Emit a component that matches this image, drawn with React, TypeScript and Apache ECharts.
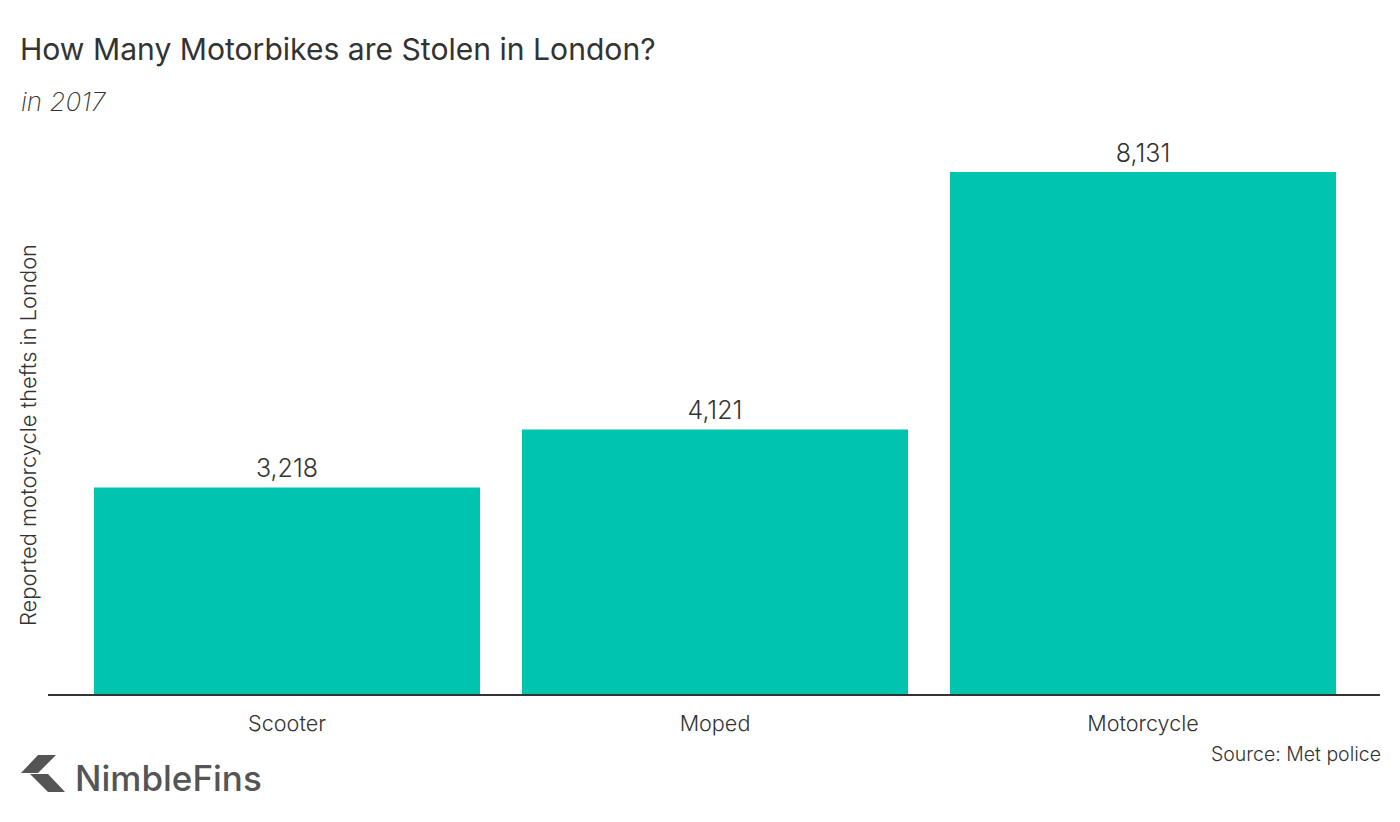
import * as echarts from "echarts";
import React, { useEffect, useRef } from "react";

const categories = ["Scooter", "Moped", "Motorcycle"];
const thefts = [3218, 4121, 8131];

const FONT = "Inter";
const TEXT = "#333333";

// NimbleFins chevron
echarts.graphic.registerShape(
  "logo",
  echarts.graphic.extendPath("M0 18 L17 0 L35 0 L17 18 Z M9 19 L27 19 L44 37 L27 37 Z", {})
);

const option = {
  animation: false,
  backgroundColor: "#ffffff",
  grid: { left: 73, top: 172, width: 1284, height: 522 },
  xAxis: {
    type: "category",
    data: categories,
    axisLine: { show: false },
    axisTick: { show: false },
    axisLabel: { fontFamily: FONT, fontSize: 21.6, fontWeight: 300, color: TEXT, margin: 18 },
  },
  yAxis: {
    type: "value",
    min: 0,
    max: 8131,
    show: false,
  },
  series: [
    {
      type: "bar",
      data: thefts,
      barWidth: 386,
      itemStyle: { color: "#00c4ae" },
      label: {
        show: true,
        position: "top",
        distance: 7,
        fontFamily: FONT,
        fontSize: 25,
        fontWeight: 300,
        color: TEXT,
        formatter: (p: any) => p.value.toLocaleString("en-US"),
      },
    },
  ],
  graphic: [
    {
      type: "line",
      shape: { x1: 48, y1: 695, x2: 1380, y2: 695 },
      style: { stroke: "#333333", lineWidth: 2 },
    },
    {
      type: "text",
      x: 20,
      y: 34,
      style: { text: "How Many Motorbikes are Stolen in London?", font: `400 30.1px ${FONT}`, fill: TEXT },
    },
    {
      type: "text",
      x: 21,
      y: 88,
      style: { text: "in 2017", font: `italic 200 26px ${FONT}`, fill: "#333333" },
    },
    {
      type: "text",
      rotation: Math.PI / 2,
      x: 17,
      y: 626,
      style: { text: "Reported motorcycle thefts in London", font: `300 21.9px ${FONT}`, fill: TEXT },
    },
    {
      type: "text",
      x: 1381,
      y: 744,
      style: { text: "Source: Met police", font: `300 19.5px ${FONT}`, fill: TEXT, textAlign: "right" },
    },
    {
      type: "logo",
      x: 21,
      y: 755,
      style: { fill: "#555555" },
    },
    {
      type: "text",
      x: 75,
      y: 760,
      style: { text: "NimbleFins", font: `500 35px ${FONT}`, fill: "#555555" },
    },
  ],
};

const App: React.FC = () => {
  const chartRef = useRef<HTMLDivElement>(null);

  useEffect(() => {
    if (!chartRef.current) return;
    const chart = echarts.init(chartRef.current, null, { renderer: "svg" });
    chart.setOption(option as any);
    return () => chart.dispose();
  }, []);

  return <div ref={chartRef} style={{ position: "absolute", left: 0, top: 0, width: 1400, height: 822 }} />;
};

export default App;
